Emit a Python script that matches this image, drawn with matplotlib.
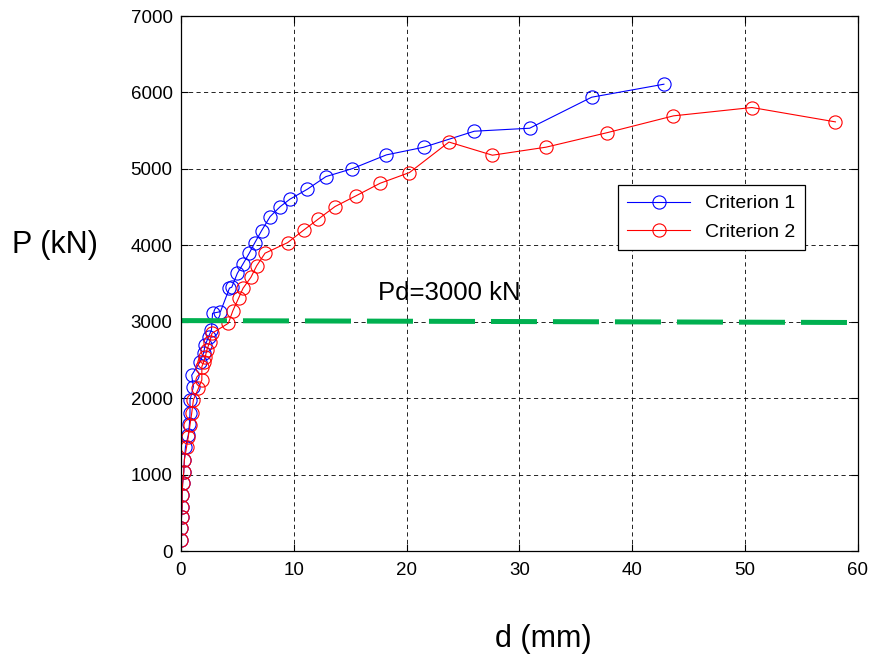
import matplotlib.pyplot as plt

plt.rcParams['font.family'] = ['Liberation Sans', 'DejaVu Sans']

# Criterion 1 (blue)
d1 = [0.0, 0.0, 0.05, 0.1, 0.1, 0.15, 0.25, 0.3, 0.4,
      0.65, 0.75, 0.8, 0.8, 1.1, 0.95,
      1.7, 2.0, 2.15, 2.45, 2.7, 2.8, 3.5, 4.3, 4.5,
      5.0, 5.5, 6.05, 6.55, 7.15, 7.9, 8.8, 9.65, 11.2, 12.85, 15.2, 18.2,
      21.5, 26.0, 30.9, 36.4, 42.8]
p1 = [144, 297, 449, 580, 733, 886, 1038, 1191, 1365,
      1518, 1662, 1802, 1976, 2150, 2300,
      2478, 2588, 2696, 2805, 2893, 3111, 3132, 3440, 3452,
      3635, 3757, 3897, 4035, 4193, 4376, 4507, 4603, 4734, 4899, 5004, 5183,
      5283, 5493, 5532, 5938, 6108]

# Criterion 2 (red)
d2 = [0.0, 0.0, 0.05, 0.1, 0.1, 0.15, 0.25, 0.3, 0.5,
      0.65, 0.8, 0.95, 1.1, 1.55, 1.85, 1.85,
      2.0, 2.15, 2.3, 2.55, 2.75, 4.2,
      4.6, 5.1, 5.5, 6.2, 6.7, 7.45, 9.45, 10.9, 12.15, 13.65, 15.5, 17.65,
      20.25, 23.75, 27.6, 32.35, 37.8, 43.65, 50.6, 58.0]
p2 = [144, 297, 449, 580, 733, 886, 1038, 1191, 1365,
      1496, 1650, 1802, 1976, 2130, 2238, 2412,
      2470, 2543, 2631, 2740, 2849, 2980,
      3145, 3307, 3438, 3582, 3730, 3897, 4035, 4202, 4341, 4507, 4647, 4812,
      4952, 5351, 5179, 5284, 5475, 5694, 5803, 5615]

pd_x = [0, 60]
pd_y = [3015, 2990]

fig = plt.figure(figsize=(8.73, 6.57), dpi=100)
ax = fig.add_axes([0.2073, 0.1613, 0.7755, 0.8143])

ax.plot(d1, p1, '-o', color='blue', lw=0.8, ms=9.5, mfc='none', mew=0.8,
        label='Criterion 1')
ax.plot(d2, p2, '-o', color='red', lw=0.8, ms=9.5, mfc='none', mew=0.8,
        label='Criterion 2')
ax.plot(pd_x, pd_y, color='#00b050', lw=3.6, dashes=(9.2, 3.2))

ax.text(17.5, 3285, 'Pd=3000 kN', fontsize=18.5)

ax.set_xlim(0, 60)
ax.set_ylim(0, 7000)
ax.set_xticks(range(0, 61, 10))
ax.set_yticks(range(0, 7001, 1000))
ax.grid(True, color='black', ls=(0, (5, 4)), lw=0.6)
ax.tick_params(direction='in', top=True, right=True, labelsize=13.5, length=5)
ax.tick_params(axis='x', pad=8)
ax.tick_params(axis='y', pad=6)
for s in ax.spines.values():
    s.set_linewidth(0.9)

leg = ax.legend(loc='upper right', bbox_to_anchor=(0.922, 0.684),
                borderaxespad=0, fontsize=14, fancybox=False,
                edgecolor='black', framealpha=1, handlelength=3.2,
                labelspacing=0.55, borderpad=0.5)
leg.get_frame().set_linewidth(0.9)

fig.text(0.063, 0.627, 'P (kN)', fontsize=22, ha='center', va='center')
fig.text(0.622, 0.028, 'd (mm)', fontsize=22, ha='center', va='center')

fig.savefig('out.png', dpi=100)
